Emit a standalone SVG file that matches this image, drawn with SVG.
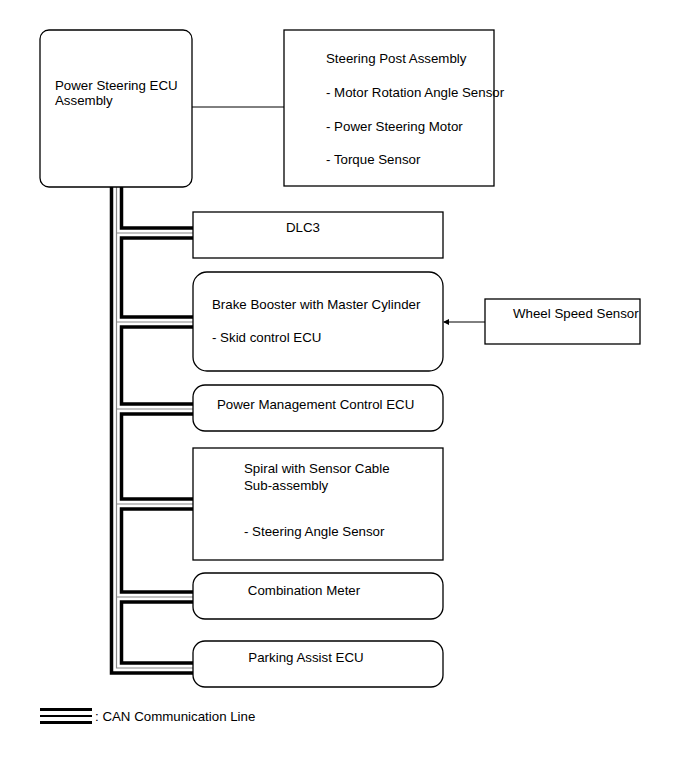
<svg xmlns="http://www.w3.org/2000/svg" width="691" height="757" viewBox="0 0 691 757">
<defs>
<style>
.box{fill:#fff;stroke:#000;stroke-width:1.3}
.t{font-family:"Liberation Sans",Arial,sans-serif;font-size:13.3px;fill:#000}
.c{text-anchor:middle}
.bk{fill:none;stroke:#000;stroke-width:3.5;stroke-linejoin:miter}
.gr{fill:none;stroke:#888;stroke-width:1.2}
.ln{fill:none;stroke:#000;stroke-width:1}
</style>
<marker id="ah" markerWidth="6" markerHeight="6" refX="5" refY="3" orient="auto" markerUnits="userSpaceOnUse">
<path d="M0,0 L6,3 L0,6 Z" fill="#000"/>
</marker>
</defs>
<rect width="691" height="757" fill="#fff"/>

<g id="connectors">
<line class="ln" x1="192" y1="107" x2="284" y2="107"/>
<line class="ln" x1="485" y1="322" x2="444" y2="322" marker-end="url(#ah)"/>
<path class="gr" d="M116.5,187 V668 H193 M116.5,233 H193 M116.5,322 H193 M116.5,409 H193 M116.5,504 H193 M116.5,597 H193"/>
<path class="bk" d="M111.5,187 V673 H193"/>
<path class="bk" d="M121.5,187 V228 H193"/>
<path class="bk" d="M193,238 H121.5 V317 H193"/>
<path class="bk" d="M193,327 H121.5 V404 H193"/>
<path class="bk" d="M193,414 H121.5 V499 H193"/>
<path class="bk" d="M193,509 H121.5 V592 H193"/>
<path class="bk" d="M193,602 H121.5 V663 H193"/>
</g>

<g id="ecu">
<rect class="box" x="40" y="30" width="152" height="157" rx="9"/>
<text class="t" x="55" y="90">Power Steering ECU</text>
<text class="t" x="55" y="105">Assembly</text>
</g>

<g id="steering-post">
<rect class="box" x="284" y="30" width="210" height="156"/>
<text class="t" x="326" y="63">Steering Post Assembly</text>
<text class="t" x="326" y="97">- Motor Rotation Angle Sensor</text>
<text class="t" x="326" y="131">- Power Steering Motor</text>
<text class="t" x="326" y="164">- Torque Sensor</text>
</g>

<g id="dlc3">
<rect class="box" x="193" y="212" width="250" height="46"/>
<text class="t c" x="303" y="232">DLC3</text>
</g>

<g id="brake-booster">
<rect class="box" x="193" y="272" width="250" height="99" rx="14"/>
<text class="t" x="212" y="309">Brake Booster with Master Cylinder</text>
<text class="t" x="212" y="342">- Skid control ECU</text>
</g>

<g id="wheel-speed">
<rect class="box" x="485" y="299" width="155" height="45"/>
<text class="t" x="513" y="318">Wheel Speed Sensor</text>
</g>

<g id="power-mgmt">
<rect class="box" x="193" y="385" width="250" height="46" rx="12"/>
<text class="t" x="217" y="409">Power Management Control ECU</text>
</g>

<g id="spiral">
<rect class="box" x="193" y="448" width="250" height="112"/>
<text class="t" x="244" y="473">Spiral with Sensor Cable</text>
<text class="t" x="244" y="490">Sub-assembly</text>
<text class="t" x="244" y="536">- Steering Angle Sensor</text>
</g>

<g id="combination-meter">
<rect class="box" x="193" y="573" width="250" height="46" rx="12"/>
<text class="t c" x="304" y="595">Combination Meter</text>
</g>

<g id="parking-assist">
<rect class="box" x="193" y="641" width="250" height="46" rx="12"/>
<text class="t c" x="306" y="662">Parking Assist ECU</text>
</g>

<g id="legend">
<line x1="40" y1="709.5" x2="92" y2="709.5" stroke="#000" stroke-width="3"/>
<line x1="40" y1="716" x2="92" y2="716" stroke="#000" stroke-width="2"/>
<line x1="40" y1="722.5" x2="92" y2="722.5" stroke="#000" stroke-width="3"/>
<text class="t" x="95" y="721">: CAN Communication Line</text>
</g>
</svg>
